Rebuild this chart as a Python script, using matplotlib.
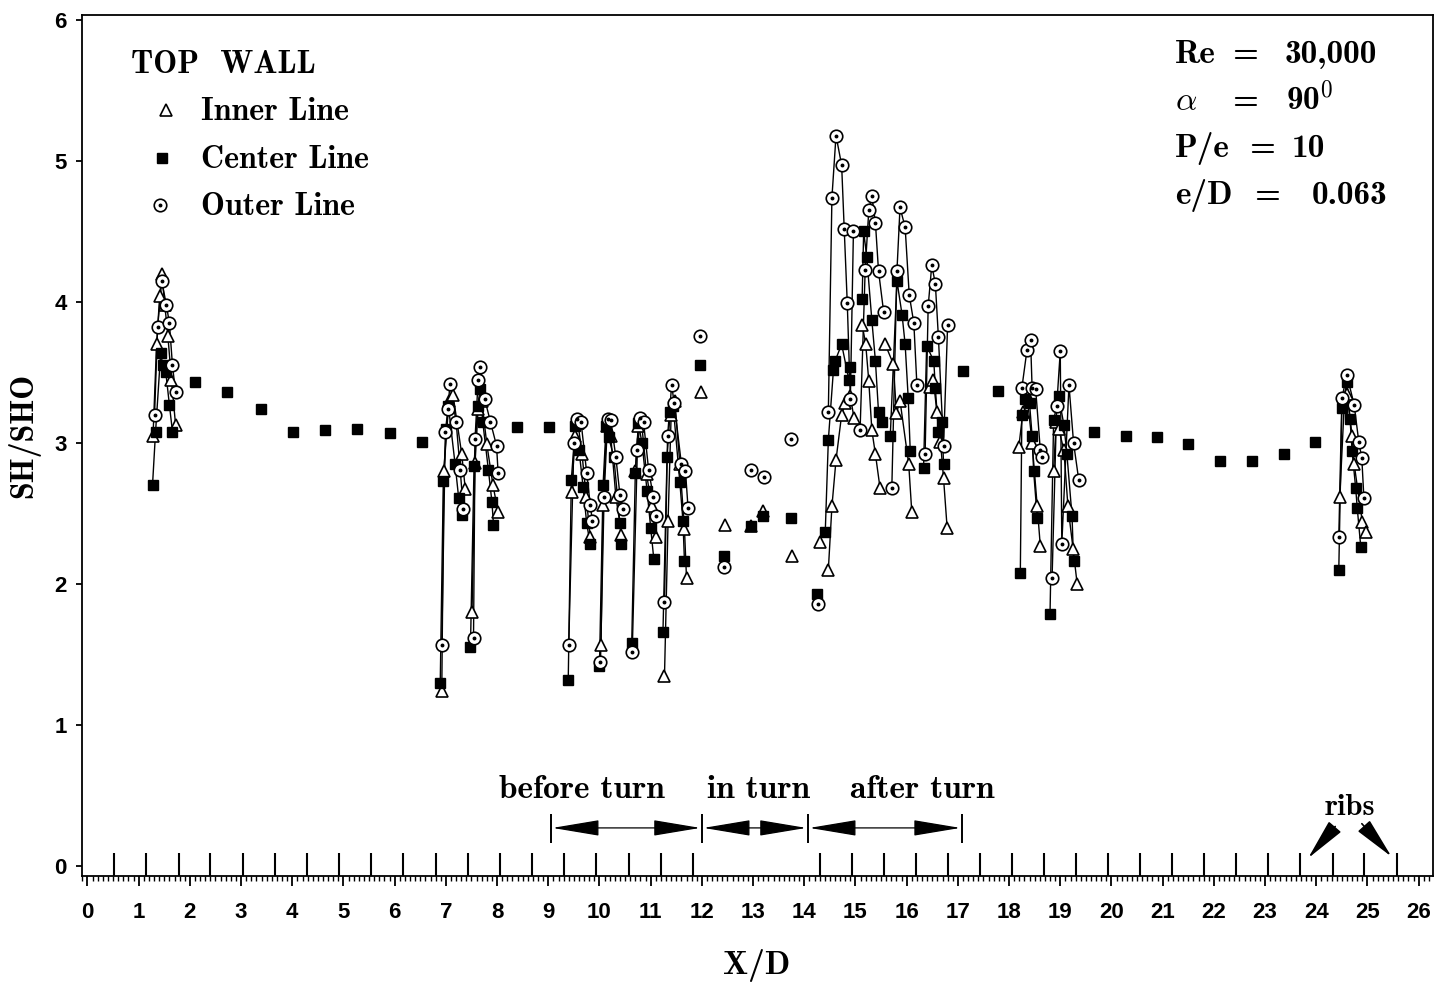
import numpy as np
import matplotlib.pyplot as plt
from matplotlib.ticker import MultipleLocator

plt.rcParams['mathtext.fontset'] = 'cm'
plt.rcParams['font.family'] = 'Liberation Sans'
plt.rcParams['font.weight'] = 'bold'

# rib positions along the channel (X/D)
rib_x = [0.52, 1.15, 1.78, 2.40, 3.03, 3.66, 4.29, 4.92, 5.54, 6.17, 6.80,
         7.43, 8.06, 8.68, 9.31, 9.94, 10.57, 11.20, 11.82,
         14.30, 14.93, 15.55, 16.18, 16.81, 17.43, 18.06, 18.68, 19.31,
         19.93, 20.56, 21.19, 21.81, 22.44, 23.06, 23.69, 24.32, 24.94, 25.57]

# centre line readings between the instrumented pitches
center_single_x = [2.10, 2.72, 3.39, 4.01, 4.64, 5.26, 5.91, 6.53, 8.39, 9.01,
                   17.10, 17.78, 19.66, 20.28, 20.89, 21.49, 22.12, 22.74,
                   23.37, 23.98]
center_single_y = [3.43, 3.36, 3.24, 3.08, 3.09, 3.10, 3.07, 3.01, 3.11, 3.11,
                   3.51, 3.37, 3.08, 3.05, 3.04, 2.99, 2.87, 2.87, 2.92, 3.01]

# readings inside the turn
turn_inner_x = [11.99, 12.46, 12.96, 13.20, 13.76, 14.31]
turn_inner_y = [3.36, 2.42, 2.41, 2.52, 2.20, 2.30]
turn_center_x = [11.96, 12.43, 12.96, 13.20, 13.74, 14.24]
turn_center_y = [3.55, 2.20, 2.41, 2.48, 2.47, 1.93]
turn_outer_x = [11.97, 12.43, 12.96, 13.22, 13.74, 14.26]
turn_outer_y = [3.76, 2.12, 2.81, 2.76, 3.03, 1.86]

# instrumented rib pitches, one sub-list per pitch
inner_x = [
    [1.28, 1.35, 1.41, 1.45, 1.51, 1.57, 1.64, 1.72],
    [6.92, 6.96, 7.06, 7.14, 7.31, 7.38],
    [7.51, 7.57, 7.63, 7.70, 7.80, 7.92, 8.02],
    [9.46, 9.52, 9.58, 9.66, 9.74, 9.82],
    [10.03, 10.07, 10.14, 10.22, 10.32, 10.43],
    [10.70, 10.76, 10.82, 10.92, 11.02, 11.10],
    [11.27, 11.34, 11.40, 11.47, 11.57, 11.66, 11.70],
    [14.47, 14.54, 14.62, 14.73, 14.80, 14.90, 14.97],
    [15.13, 15.20, 15.26, 15.32, 15.39, 15.48],
    [15.58, 15.74, 15.80, 15.87, 16.04, 16.10],
    [16.45, 16.52, 16.59, 16.66, 16.72, 16.79],
    [18.19, 18.27, 18.35, 18.45, 18.55, 18.61],
    [18.87, 18.92, 18.97, 19.07, 19.15, 19.25, 19.33],
    [24.46, 24.55, 24.60, 24.70, 24.74, 24.90, 24.97],
]
inner_y = [
    [3.05, 3.70, 4.04, 4.20, 3.98, 3.76, 3.45, 3.13],
    [1.24, 2.80, 3.30, 3.34, 2.92, 2.67],
    [1.80, 2.86, 3.24, 3.30, 2.99, 2.70, 2.51],
    [2.65, 3.05, 3.14, 2.92, 2.62, 2.33],
    [1.57, 2.56, 3.12, 3.05, 2.62, 2.35],
    [2.80, 3.12, 3.15, 2.78, 2.55, 2.33],
    [1.35, 2.45, 3.20, 3.30, 2.85, 2.39, 2.04],
    [2.10, 2.55, 2.88, 3.20, 3.28, 3.33, 3.18],
    [3.84, 3.70, 3.44, 3.09, 2.92, 2.68],
    [3.70, 3.56, 3.21, 3.30, 2.85, 2.51],
    [3.40, 3.45, 3.22, 3.01, 2.75, 2.40],
    [2.97, 3.22, 3.34, 3.00, 2.55, 2.27],
    [2.80, 3.15, 3.10, 2.95, 2.55, 2.25, 2.00],
    [2.62, 3.30, 3.35, 3.05, 2.85, 2.44, 2.37],
]
center_x = [
    [1.27, 1.33, 1.43, 1.47, 1.53, 1.60, 1.66],
    [6.89, 6.95, 7.01, 7.05, 7.18, 7.25, 7.31],
    [7.48, 7.55, 7.62, 7.67, 7.72, 7.83, 7.90, 7.93],
    [9.39, 9.45, 9.53, 9.60, 9.68, 9.75, 9.82],
    [10.00, 10.07, 10.13, 10.18, 10.28, 10.40, 10.43],
    [10.63, 10.70, 10.76, 10.83, 10.93, 11.00, 11.06],
    [11.24, 11.32, 11.38, 11.44, 11.57, 11.63, 11.66],
    [14.41, 14.47, 14.57, 14.60, 14.73, 14.87, 14.90],
    [15.13, 15.16, 15.22, 15.32, 15.39, 15.45, 15.52],
    [15.68, 15.81, 15.91, 15.97, 16.03, 16.07],
    [16.33, 16.39, 16.53, 16.56, 16.62, 16.69, 16.72],
    [18.22, 18.25, 18.32, 18.40, 18.45, 18.48, 18.55],
    [18.80, 18.87, 18.97, 19.07, 19.13, 19.23, 19.26],
    [24.44, 24.50, 24.60, 24.66, 24.70, 24.77, 24.80, 24.87],
]
center_y = [
    [2.70, 3.08, 3.64, 3.55, 3.50, 3.27, 3.08],
    [1.30, 2.73, 3.10, 3.26, 2.85, 2.61, 2.49],
    [1.55, 2.84, 3.26, 3.38, 3.15, 2.81, 2.58, 2.42],
    [1.32, 2.74, 3.12, 2.95, 2.69, 2.43, 2.28],
    [1.42, 2.70, 3.12, 3.04, 2.90, 2.43, 2.28],
    [1.58, 2.79, 3.14, 3.00, 2.66, 2.40, 2.18],
    [1.66, 2.90, 3.22, 3.26, 2.72, 2.45, 2.16],
    [2.37, 3.02, 3.52, 3.58, 3.70, 3.45, 3.54],
    [4.02, 4.50, 4.32, 3.87, 3.58, 3.22, 3.15],
    [3.05, 4.15, 3.91, 3.70, 3.32, 2.94],
    [2.82, 3.69, 3.58, 3.39, 3.08, 3.15, 2.85],
    [2.08, 3.20, 3.31, 3.28, 3.05, 2.80, 2.47],
    [1.79, 3.16, 3.33, 3.13, 2.92, 2.48, 2.16],
    [2.10, 3.25, 3.43, 3.17, 2.94, 2.68, 2.54, 2.26],
]
outer_x = [
    [1.31, 1.37, 1.45, 1.54, 1.60, 1.66, 1.72],
    [6.92, 6.99, 7.04, 7.08, 7.20, 7.28, 7.34],
    [7.54, 7.57, 7.63, 7.67, 7.76, 7.87, 7.99, 8.02],
    [9.40, 9.50, 9.57, 9.64, 9.75, 9.82, 9.86],
    [10.02, 10.09, 10.16, 10.22, 10.32, 10.40, 10.45],
    [10.64, 10.74, 10.80, 10.86, 10.96, 11.05, 11.10],
    [11.27, 11.33, 11.41, 11.46, 11.60, 11.68, 11.73],
    [14.47, 14.54, 14.62, 14.73, 14.78, 14.84, 14.90, 14.96],
    [15.09, 15.19, 15.26, 15.32, 15.39, 15.45, 15.55],
    [15.71, 15.81, 15.87, 15.97, 16.05, 16.14, 16.20],
    [16.36, 16.42, 16.49, 16.56, 16.62, 16.72, 16.80],
    [18.25, 18.35, 18.42, 18.45, 18.52, 18.61, 18.64],
    [18.84, 18.93, 19.00, 19.03, 19.17, 19.26, 19.36],
    [24.44, 24.50, 24.60, 24.74, 24.83, 24.89, 24.93],
]
outer_y = [
    [3.20, 3.82, 4.15, 3.98, 3.85, 3.55, 3.36],
    [1.57, 3.08, 3.24, 3.42, 3.15, 2.81, 2.53],
    [1.62, 3.03, 3.45, 3.54, 3.31, 3.15, 2.98, 2.79],
    [1.57, 3.00, 3.17, 3.15, 2.79, 2.56, 2.45],
    [1.45, 2.62, 3.17, 3.16, 2.90, 2.63, 2.53],
    [1.52, 2.95, 3.18, 3.15, 2.81, 2.62, 2.48],
    [1.87, 3.05, 3.41, 3.28, 2.85, 2.80, 2.54],
    [3.22, 4.74, 5.18, 4.97, 4.52, 3.99, 3.31, 4.50],
    [3.09, 4.23, 4.65, 4.75, 4.56, 4.22, 3.93],
    [2.68, 4.22, 4.67, 4.53, 4.05, 3.85, 3.41],
    [2.92, 3.97, 4.26, 4.13, 3.75, 2.98, 3.84],
    [3.39, 3.66, 3.73, 3.39, 3.38, 2.95, 2.90],
    [2.04, 3.26, 3.65, 2.28, 3.41, 3.00, 2.74],
    [2.33, 3.32, 3.48, 3.27, 3.01, 2.89, 2.61],
]

W, H = 1450, 983
BOLD = 'cmb10'

def fig_xy(px, py):
    return px / W, 1 - py / H

inner_style = dict(marker='^', ms=8, mfc='white', mec='k', mew=1.2, ls='none')
center_style = dict(marker='s', ms=6.5, mfc='k', mec='k', ls='none')
outer_style = dict(marker='o', ms=9, mfc='white', mec='k', mew=1.2, ls='none')

fig = plt.figure(figsize=(W / 100, H / 100), dpi=100)
ax = fig.add_axes([82 / W, 1 - 876 / H, (1433 - 82) / W, (876 - 15) / H])
ax.set_xlim(-0.107, 26.28)
ax.set_ylim(-0.071, 6.035)


def draw_points(xs, ys, style, dotted=False, joined=True, **kw):
    if joined:
        ax.plot(xs, ys, color='k', lw=1.0, zorder=2)
    ax.plot(xs, ys, zorder=3, **style, **kw)
    if dotted:
        ax.plot(xs, ys, ls='none', marker='o', ms=1.8, color='k', zorder=4, **kw)


for xs, ys in zip(inner_x, inner_y):
    draw_points(xs, ys, inner_style)
for xs, ys in zip(center_x, center_y):
    draw_points(xs, ys, center_style)
for xs, ys in zip(outer_x, outer_y):
    draw_points(xs, ys, outer_style, dotted=True)

draw_points(turn_inner_x, turn_inner_y, inner_style, joined=False)
draw_points(turn_center_x, turn_center_y, center_style, joined=False)
draw_points(turn_outer_x, turn_outer_y, outer_style, dotted=True, joined=False)
draw_points(center_single_x, center_single_y, center_style, joined=False)

# ribs as short bars standing on the axis
ax.vlines(rib_x, -0.071, 0.09, colors='k', lw=1.5, zorder=2)

# section brackets
bounds = [9.05, 12.0, 14.07, 17.08]
ax.vlines(bounds, 0.16, 0.37, colors='k', lw=1.4)
for a, b in zip(bounds[:-1], bounds[1:]):
    ax.annotate('', xy=(a + 0.03, 0.27), xytext=(b - 0.03, 0.27),
                arrowprops=dict(arrowstyle='<|-|>,head_length=1.5,head_width=0.25',
                                mutation_scale=20, lw=0.9, color='k',
                                shrinkA=0, shrinkB=0))
for label, xc in [('before turn', 9.66), ('in turn', 13.10), ('after turn', 16.30)]:
    ax.text(xc, 0.48, label, ha='center', va='baseline', fontsize=24, family=BOLD)

ax.text(24.65, 0.36, 'ribs', ha='center', va='baseline', fontsize=22, family=BOLD)
for tail, head in [((24.37, 0.28), (23.84, 0.055)), ((24.89, 0.30), (25.47, 0.066))]:
    ax.annotate('', xy=head, xytext=tail,
                arrowprops=dict(arrowstyle='-|>,head_length=1.3,head_width=0.25',
                                mutation_scale=20, lw=1.2, color='k',
                                shrinkA=0, shrinkB=0))

# axes, ticks
ax.xaxis.set_major_locator(MultipleLocator(1))
ax.xaxis.set_minor_locator(MultipleLocator(0.1))
ax.yaxis.set_major_locator(MultipleLocator(1))
ax.tick_params(axis='x', which='major', direction='out', length=7.5, width=1.3,
               pad=11, labelsize=16)
ax.tick_params(axis='x', which='minor', direction='out', length=3.5, width=1.0)
ax.tick_params(axis='y', which='major', direction='out', length=4, width=1.3,
               pad=7, labelsize=16)
for sp in ax.spines.values():
    sp.set_linewidth(1.3)

fig.text(*fig_xy(757, 965), 'X/D', ha='center', va='center', fontsize=24, family=BOLD)
fig.text(*fig_xy(24, 435), 'SH/SHO', ha='center', va='center', rotation=90,
         fontsize=23, family=BOLD)

# legend block
fig.text(*fig_xy(131, 73), 'TOP  WALL', ha='left', va='baseline', fontsize=23, family=BOLD)
legend_rows = [('Inner Line', inner_style, 120, 166, False),
               ('Center Line', center_style, 168, 162, False),
               ('Outer Line', outer_style, 215, 160, True)]
for text, style, base, mx, dotted in legend_rows:
    fig.text(*fig_xy(201, base), text, ha='left', va='baseline', fontsize=23, family=BOLD)
    ax.plot([fig_xy(mx, base - 10)[0]], [fig_xy(mx, base - 10)[1]],
            transform=fig.transFigure, clip_on=False, **style)
    if dotted:
        ax.plot([fig_xy(mx, base - 10)[0]], [fig_xy(mx, base - 10)[1]],
                transform=fig.transFigure, clip_on=False, ls='none',
                marker='o', ms=1.8, color='k')

# parameter block
params = [('Re', 1245, '30,000', 1331, 63),
          (r'$\alpha$', 1245, r'90$^{\mathbf{0}}$', 1310, 110),
          ('P/e', 1262, '10', 1308, 157),
          ('e/D', 1267, '0.063', 1350, 204)]
for name, eq_x, value, val_x, base in params:
    fig.text(*fig_xy(1175, base), name, ha='left', va='baseline', fontsize=24, family=BOLD)
    fig.text(*fig_xy(eq_x, base), '=', ha='center', va='baseline', fontsize=24, family=BOLD)
    fig.text(*fig_xy(val_x, base), value, ha='center', va='baseline', fontsize=24, family=BOLD)

fig.savefig('out.png', dpi=100)
